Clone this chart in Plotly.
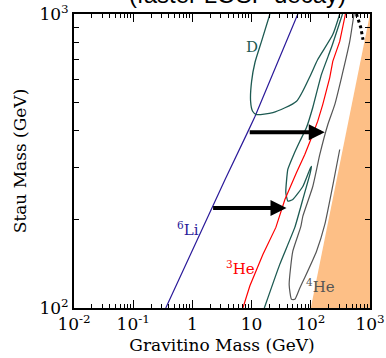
import math
import plotly.graph_objects as go

# ---- data ----
li6_x = [0.355, 2.11, 3.55, 8.66, 11.4, 60.4]
li6_y = [100, 220, 273, 398, 448, 1000]

d1_x = [20.4, 14.7, 11.4, 10.0, 9.62, 10.4, 12.1, 22.9, 57.4, 96.2, 131, 235, 308]
d1_y = [1000, 807, 684, 590, 505, 467, 455, 462, 505, 612, 700, 851, 1000]

d2_x = [343, 226, 151, 108, 84.5, 65.3, 51.6, 40.9, 37.8, 40.9, 49.7, 73.3, 96.2, 103, 96.2, 73.3, 53.7, 30, 16.4]
d2_y = [1000, 775, 622, 481, 411, 369, 333, 296, 247, 231, 234, 259, 296, 303, 284, 234, 188, 141, 100]

he3_x = [385, 308, 235, 209, 159, 131, 103, 79.2, 57.4, 36.5, 25.7, 15.5, 9.36, 7.13]
he3_y = [1000, 807, 690, 608, 492, 432, 380, 333, 289, 234, 188, 152, 119, 100]

he4_x = [537, 455, 330, 254, 194, 142, 108, 73.3, 67.8, 49.7, 43.1, 47.3, 53.7, 65.3, 79.2, 125, 172, 235, 308]
he4_y = [1000, 807, 608, 492, 421, 333, 259, 205, 189, 156, 120, 107, 107, 117, 127, 156, 192, 261, 346]

dot_x = [590, 697, 762]
dot_y = [1000, 901, 818]

region_x = [100, 1000, 1000, 100]
region_y = [100, 100, 1000, 100]

arrow_start_x = [8.77, 2.11]
arrow_end_x = [172, 38.9]
arrow_y = [396, 219]

labels = ["D", "<sup>6</sup>Li", "<sup>3</sup>He", "<sup>4</sup>He"]
label_x = [10.1, 0.84, 6.47, 145]
label_y = [775, 186, 137, 119]
label_colors = ["#1d5a52", "#2b1a9a", "#ff0000", "#555555"]

x_tickvals = [0.01, 0.1, 1, 10, 100, 1000]
x_ticktext = ["10<sup>-2</sup>", "10<sup>-1</sup>", "1", "10", "10<sup>2</sup>", "10<sup>3</sup>"]
y_tickvals = [100, 1000]
y_ticktext = ["10<sup>2</sup>", "10<sup>3</sup>"]
x_minor = [k * 10 ** e for e in range(-2, 3) for k in range(2, 10)]
y_minor = [k * 100 for k in range(2, 10)]

FONT = "DejaVu Serif"

fig = go.Figure()
fig.add_trace(go.Scatter(x=region_x, y=region_y, fill="toself", fillcolor="#fdbf86",
                         line=dict(width=0), mode="lines", hoverinfo="skip"))
fig.add_trace(go.Scatter(x=li6_x, y=li6_y, mode="lines", line=dict(color="#2b1a9a", width=1.2)))
fig.add_trace(go.Scatter(x=d1_x, y=d1_y, mode="lines", line=dict(color="#1d5a52", width=1.3, shape="spline", smoothing=0.6)))
fig.add_trace(go.Scatter(x=d2_x, y=d2_y, mode="lines", line=dict(color="#1d5a52", width=1.3, shape="spline", smoothing=0.4)))
fig.add_trace(go.Scatter(x=he3_x, y=he3_y, mode="lines", line=dict(color="#ff0000", width=1.2)))
fig.add_trace(go.Scatter(x=he4_x, y=he4_y, mode="lines", line=dict(color="#555555", width=1.2, shape="spline", smoothing=0.5)))
fig.add_trace(go.Scatter(x=dot_x, y=dot_y, mode="lines", line=dict(color="black", width=3, dash="dot")))

for xs, xe, yy in zip(arrow_start_x, arrow_end_x, arrow_y):
    fig.add_annotation(x=math.log10(xe), y=math.log10(yy), ax=math.log10(xs), ay=math.log10(yy),
                       xref="x", yref="y", axref="x", ayref="y", text="", showarrow=True,
                       arrowhead=2, arrowwidth=4, arrowsize=0.8, arrowcolor="black", standoff=0)

for t, lx, ly, c in zip(labels, label_x, label_y, label_colors):
    fig.add_annotation(x=math.log10(lx), y=math.log10(ly), xref="x", yref="y", text=t,
                       showarrow=False, font=dict(family=FONT, size=15, color=c))

fig.add_annotation(x=0.551, y=1.065, xref="paper", yref="paper", text="(faster LOSP decay)",
                   showarrow=False, font=dict(family="Liberation Sans", size=24, color="black"),
                   yanchor="middle")

axis_common = dict(showline=True, linewidth=2, linecolor="black", mirror="allticks",
                   ticks="inside", ticklen=8, tickwidth=1, tickcolor="black",
                   showgrid=False, zeroline=False, automargin=False,
                   tickfont=dict(family=FONT, size=17, color="black"))

fig.update_xaxes(type="log", range=[-2, 3], tickmode="array", tickvals=x_tickvals, ticktext=x_ticktext,
                 minor=dict(tickmode="array", tickvals=x_minor, ticks="inside", ticklen=4, tickcolor="black", showgrid=False),
                 title=dict(text="Gravitino Mass (GeV)", font=dict(family=FONT, size=17, color="black"), standoff=6),
                 **axis_common)
fig.update_yaxes(type="log", range=[2, 3], tickmode="array", tickvals=y_tickvals, ticktext=y_ticktext,
                 minor=dict(tickmode="array", tickvals=y_minor, ticks="inside", ticklen=5, tickcolor="black", showgrid=False),
                 title=dict(text="Stau Mass (GeV)", font=dict(family=FONT, size=17, color="black"), standoff=8),
                 **axis_common)

fig.update_layout(width=386, height=358, margin=dict(l=74, r=16, t=14, b=50),
                  plot_bgcolor="white", paper_bgcolor="white", showlegend=False)

fig.write_html("out.html", config={"displayModeBar": False},
               post_script="document.body.style.margin='0';document.body.style.padding='0';")
